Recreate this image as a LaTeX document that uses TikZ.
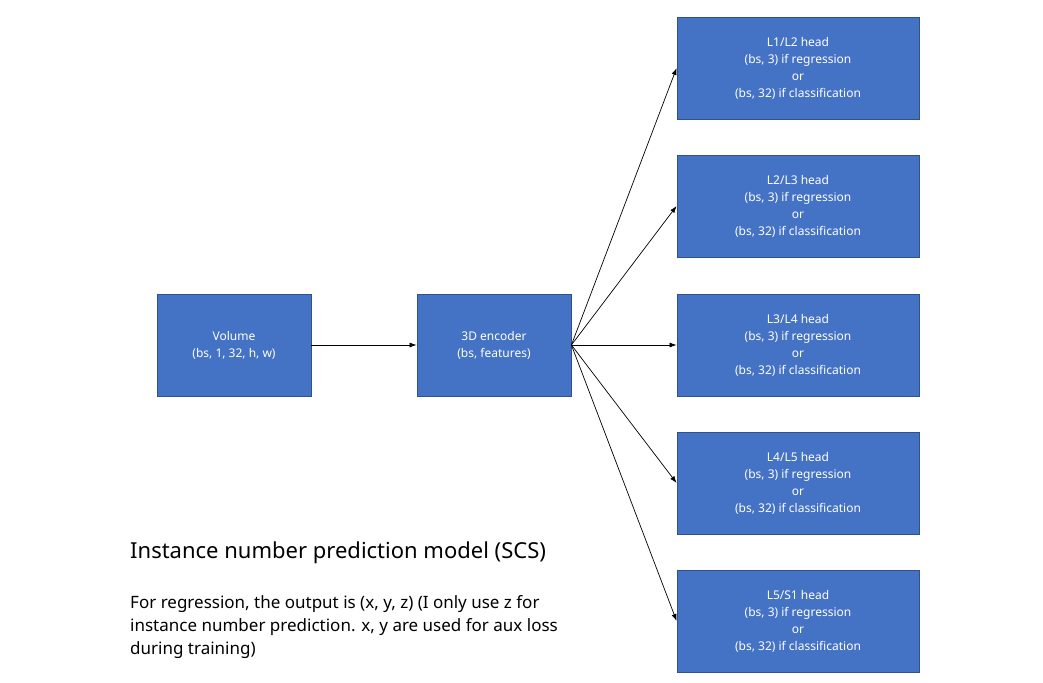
\documentclass[tikz,border=0pt]{standalone}
\usepackage{fontspec}
\setmainfont{Noto Sans}
\usetikzlibrary{arrows.meta}
\definecolor{boxfill}{HTML}{4472C4}
\definecolor{boxline}{HTML}{2F528F}
\tikzset{
  blk/.style={draw=boxline, fill=boxfill, line width=0.8pt, minimum width=154pt, minimum height=102pt, text=white, align=center, font=\fontsize{12}{17}\selectfont, inner sep=0pt},
  headblk/.style={blk, minimum width=242pt},
  conn/.style={-{Latex[length=7pt,width=5pt]}, line width=0.7pt}
}
\begin{document}
\begin{tikzpicture}[x=1pt,y=-1pt]
\useasboundingbox[fill=white] (0,0) rectangle (1043,682);
\node[blk] (vol) at (234,345) {Volume\\(bs, 1, 32, h, w)};
\node[blk] (enc) at (494,345) {3D encoder\\(bs, features)};
\foreach \n/\t/\y in {h1/L1\slash L2/68, h2/L2\slash L3/206, h3/L3\slash L4/345, h4/L4\slash L5/483, h5/L5\slash S1/621}{
  \node[headblk] (\n) at (798,\y) {\textbf{\t\ head}\\(bs, 3) if regression\\or\\(bs, 32) if classification};
  \draw[conn] (enc.east) -- (\n.west);
}
\draw[conn] (vol.east) -- (enc.west);
\node[anchor=west, inner sep=0pt, font=\fontsize{22}{26}\selectfont] (title) at (130,553) {Instance number prediction model (SCS)};
\node[anchor=north west, inner sep=0pt, align=left, font=\fontsize{17}{23}\selectfont] (desc) at (130,595) {For regression, the output is (x, y, z) (I only use z for\\instance number prediction. x, y are used for aux loss\\during training)};
\end{tikzpicture}
\end{document}
